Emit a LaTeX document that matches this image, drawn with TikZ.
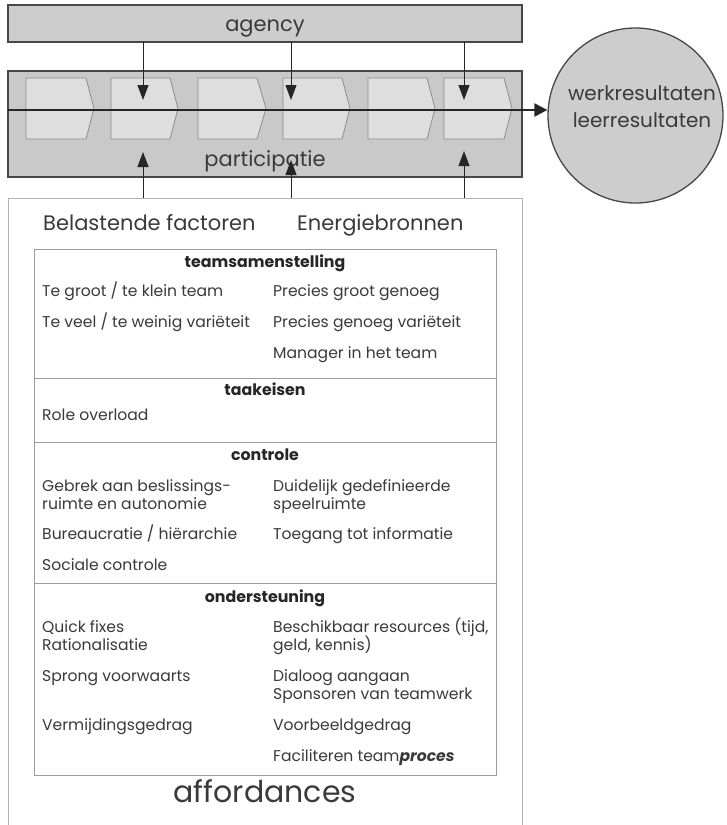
\documentclass[tikz,border=0pt]{standalone}
\usepackage{fontspec}
\setmainfont{Poppins}
\usetikzlibrary{arrows.meta}

\definecolor{ink}{HTML}{3A3A3A}
\definecolor{boxline}{HTML}{474747}
\definecolor{agencyfill}{HTML}{CDCDCD}
\definecolor{partfill}{HTML}{C9C9C9}
\definecolor{stepfill}{HTML}{DEDEDF}
\definecolor{stepline}{HTML}{8C8C8C}
\definecolor{frameline}{HTML}{B4B4B4}
\definecolor{tableline}{HTML}{9C9C9C}

\tikzset{
  band/.style={draw=boxline, line width=1.3pt, inner sep=0pt, outer sep=0pt},
  stepshape/.style={draw=stepline, fill=stepfill, line width=0.8pt},
  section/.style={draw=tableline, line width=1pt, inner sep=0pt, outer sep=0pt,
    minimum width=462pt},
  bandtxt/.style={text=ink, inner sep=0pt, anchor=base,
    font=\fontsize{21}{24}\selectfont},
  headtxt/.style={text=ink, inner sep=0pt, anchor=base west,
    font=\fontsize{21}{24}\selectfont},
  sectitle/.style={text=black!85, inner sep=0pt, anchor=base,
    font=\fontsize{15.8}{18}\selectfont\bfseries},
  itemtxt/.style={text=ink, inner sep=0pt, anchor=base west,
    font=\fontsize{15.6}{18}\selectfont},
  vline/.style={draw=black!85, line width=1pt,
    -{Triangle[length=15pt, width=11pt]}},
  flow/.style={draw=black!85, line width=2.2pt,
    -{Triangle[length=13pt, width=13pt]}},
}

\newcommand\itemat[4]{\node[itemtxt] (#1) at (#2,#3) {#4};}

\begin{document}
\begin{tikzpicture}[x=1pt, y=-1pt]
\useasboundingbox (0,0) rectangle (726,825);
\fill[white] (0,0) rectangle (726,825);

% top band and process band
\node[band, fill=agencyfill, minimum width=514pt, minimum height=37pt] (agency) at (265,23.5) {};
\node[bandtxt] (agencytxt) at (265,31) {agency};
\node[band, fill=partfill, minimum width=514pt, minimum height=106pt] (part) at (265,124) {};

% process steps
\foreach \l/\r/\t in {26/86/94, 111/170/178, 198/257/266, 283/342/350, 368/427/435, 444/504/512}
  \draw[stepshape] (\l,78) -- (\r,78) -- (\t,108.5) -- (\r,139) -- (\l,139) -- cycle;

\node[bandtxt] (parttxt) at (265,166) {participatie};

% outcome circle
\node[circle, draw=boxline, line width=1.3pt, fill=agencyfill, minimum size=175pt,
  inner sep=0pt] (result) at (635.5,115.5) {};
\node[bandtxt, font=\fontsize{20}{24}\selectfont] (werk) at (642,100) {werkresultaten};
\node[bandtxt, font=\fontsize{20}{24}\selectfont] (leer) at (642,127) {leerresultaten};

% affordances frame and table
\node[draw=frameline, line width=1pt, inner sep=0pt, outer sep=0pt,
  minimum width=514pt, minimum height=630pt] (frame) at (265,513) {};
\node[section, minimum height=129pt] (secteam) at (265,313.5) {};
\node[section, minimum height=64pt] (sectaak) at (265,410) {};
\node[section, minimum height=141pt] (secctrl) at (265,512.5) {};
\node[section, minimum height=192pt] (secsupp) at (265,679) {};

% connectors
\coordinate (flowstart) at (8,110);
\draw[flow] (flowstart) -- (result.west |- flowstart);

\coordinate (d1) at (143,100);
\coordinate (d2) at (291,100);
\coordinate (d3) at (464,100);
\draw[vline] (agency.south -| d1) -- (d1);
\draw[vline] (agency.south -| d2) -- (d2);
\draw[vline] (agency.south -| d3) -- (d3);

\coordinate (u1) at (143,152);
\coordinate (u2) at (291,160);
\coordinate (u3) at (464,151);
\draw[vline] (frame.north -| u1) -- (u1);
\draw[vline] (frame.north -| u2) -- (u2);
\draw[vline] (frame.north -| u3) -- (u3);

% column heads
\node[headtxt] (belast) at (43,230) {Belastende factoren};
\node[headtxt] (energie) at (297,230) {Energiebronnen};

% teamsamenstelling
\node[sectitle] (h1) at (265,267) {teamsamenstelling};
\itemat{a1}{42}{296}{Te groot / te klein team}
\itemat{b1}{273}{296}{Precies groot genoeg}
\itemat{a2}{42}{327}{Te veel / te weinig variëteit}
\itemat{b2}{273}{327}{Precies genoeg variëteit}
\itemat{b3}{273}{358}{Manager in het team}

% taakeisen
\node[sectitle] (h2) at (265,395) {taakeisen};
\itemat{a3}{42}{420}{Role overload}

% controle
\node[sectitle] (h3) at (265,460) {controle};
\itemat{a4}{42}{491}{Gebrek aan beslissings-}
\itemat{a5}{42}{509}{ruimte en autonomie}
\itemat{b4}{273}{491}{Duidelijk gedefinieerde}
\itemat{b5}{273}{509}{speelruimte}
\itemat{a6}{42}{539}{Bureaucratie / hiërarchie}
\itemat{b6}{273}{539}{Toegang tot informatie}
\itemat{a7}{42}{570}{Sociale controle}

% ondersteuning
\node[sectitle] (h4) at (265,602) {ondersteuning};
\itemat{a8}{42}{632}{Quick fixes}
\itemat{a9}{42}{650}{Rationalisatie}
\itemat{b7}{273}{632}{Beschikbaar resources (tijd,}
\itemat{b8}{273}{650}{geld, kennis)}
\itemat{a10}{42}{681}{Sprong voorwaarts}
\itemat{b9}{273}{681}{Dialoog aangaan}
\itemat{b10}{273}{699}{Sponsoren van teamwerk}
\itemat{a11}{42}{730}{Vermijdingsgedrag}
\itemat{b11}{273}{730}{Voorbeeldgedrag}
\itemat{b12}{273}{761}{Faciliteren team\textbf{\textit{proces}}}

\node[bandtxt, font=\fontsize{30}{36}\selectfont] (afford) at (265,802) {affordances};
\end{tikzpicture}
\end{document}
